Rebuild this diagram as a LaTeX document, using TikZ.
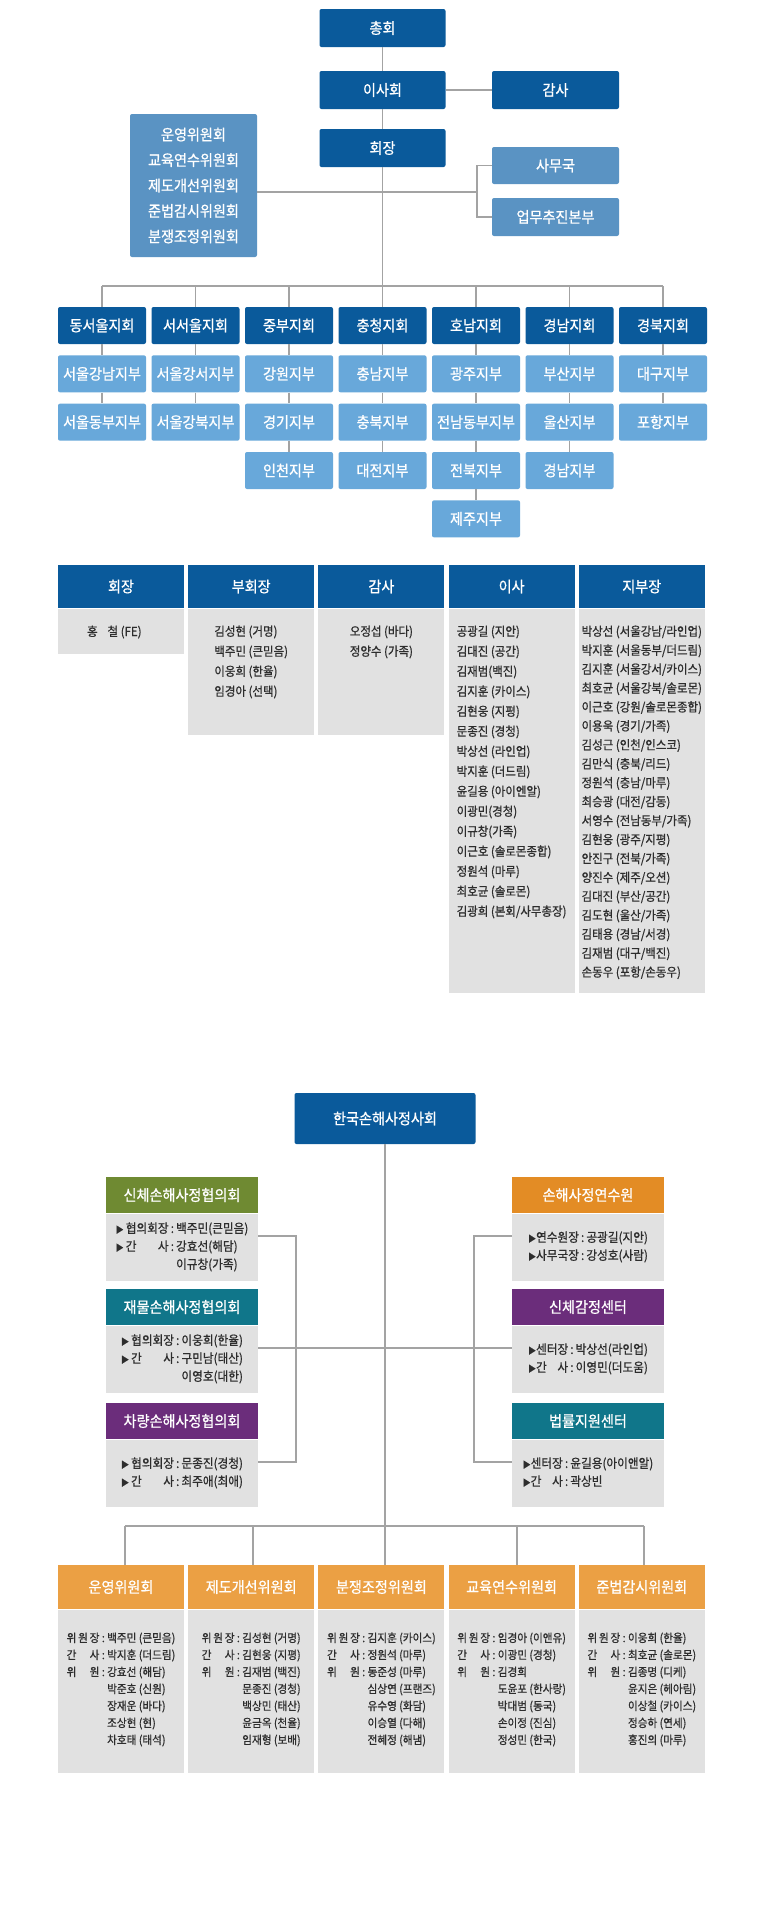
\documentclass[tikz,border=0pt]{standalone}
\usepackage{fontspec}
\setmainfont[FakeStretch=0.92, RawFeature={embolden=0.8}]{Noto Sans CJK KR}
\usetikzlibrary{positioning}
\definecolor{dkblue}{RGB}{10,90,155}
\definecolor{mdblue}{RGB}{90,147,195}
\definecolor{ltblue}{RGB}{104,168,218}
\definecolor{bodygray}{RGB}{225,225,225}
\definecolor{linegray}{RGB}{163,163,163}
\definecolor{txtgray}{RGB}{45,45,45}
\definecolor{olive}{RGB}{111,138,50}
\definecolor{tealc}{RGB}{16,118,138}
\definecolor{purp}{RGB}{107,45,123}
\definecolor{orng}{RGB}{227,140,37}
\definecolor{ltorng}{RGB}{235,160,68}
\newlength\lblw
\newcommand{\lbl}[1]{\settowidth{\lblw}{위원장}\makebox[1.12\lblw][s]{#1}}
\newcommand{\slbl}[1]{\settowidth{\lblw}{협의회장}\makebox[\lblw][s]{#1}}
\newcommand{\tlbl}[1]{\settowidth{\lblw}{센터장}\makebox[\lblw][s]{#1}}
\newcommand{\tri}{{\fontsize{6.5}{6.5}\selectfont ▶}}
\newcommand{\cont}{\hphantom{\ :\ }}
\newcommand{\scont}{\hphantom{\,:\,}}

\begin{document}
\begin{tikzpicture}[
    x=0.75pt, y=-0.75pt,
    darkbox/.style={fill=dkblue, text=white, rounded corners=1.5pt, inner sep=0pt, minimum width=94.5pt, minimum height=28.5pt, font=\fontsize{11.5}{14}\selectfont},
    midbox/.style={darkbox, fill=mdblue},
    region/.style={darkbox, minimum width=66pt, minimum height=27.75pt},
    branch/.style={region, fill=ltblue},
    thead/.style={fill=dkblue, text=white, inner sep=0pt, minimum width=94.5pt, minimum height=32.25pt, font=\fontsize{11.5}{14}\selectfont},
    tbody/.style={fill=bodygray, inner sep=0pt, minimum width=94.5pt},
    tlist/.style={text=txtgray, align=left, inner sep=0pt, font=\fontsize{9.35}{15}\selectfont},
    shead/.style={text=white, inner sep=0pt, minimum width=114pt, minimum height=27.4pt, font=\fontsize{11.5}{14}\selectfont},
    sbody/.style={fill=bodygray, text=txtgray, inner sep=0pt, minimum width=114pt, minimum height=50.25pt, font=\fontsize{9.5}{13.5}\selectfont},
    chead/.style={fill=ltorng, text=white, inner sep=0pt, minimum width=94.5pt, minimum height=33pt, font=\fontsize{11.5}{14}\selectfont},
    cbody/.style={fill=bodygray, inner sep=0pt, minimum width=94.5pt, minimum height=122.25pt},
    clist/.style={text=txtgray, inner sep=0pt, font=\fontsize{8.65}{12.75}\selectfont},
    link/.style={draw=linegray, line width=1.1pt}
]
    \fill[white] (0,0) rectangle (776,1921);
    \useasboundingbox (0,0) rectangle (776,1921);

    % top chart
    \node[darkbox] (assembly) at (382.5,28) {총회};
    \node[darkbox] (board) at (382.5,90) {이사회};
    \node[darkbox, minimum width=95.25pt] (audit) at (555.5,90) {감사};
    \node[darkbox] (pres) at (382.5,148) {회장};
    \node[midbox, minimum width=95.25pt, minimum height=107.25pt, align=center, font=\fontsize{11.5}{19.1}\selectfont] (cmtes) at (193.5,185.5) {운영위원회\\교육연수위원회\\제도개선위원회\\준법감시위원회\\분쟁조정위원회};
    \node[midbox, minimum width=95.25pt, minimum height=27.75pt] (office) at (555.5,165.5) {사무국};
    \node[midbox, minimum width=95.25pt] (hq) at (555.5,217) {업무추진본부};
    \coordinate (fork) at (477,192);
    \coordinate (bus) at (382.5,286);

    \draw[link] (assembly) -- (board);
    \draw[link] (board) -- (pres);
    \draw[link] (board) -- (audit);
    \draw[link] (pres) -- (bus);
    \draw[link] (cmtes.east |- fork) -- (fork);
    \draw[link] (office.west) -| (fork) |- (hq.west);

    % regions
    \node[region] (east) at (102,325.5) {동서울지회};
    \node[branch, below=8.1pt of east] (gangnam) {서울강남지부};
    \node[branch, below=8.1pt of gangnam] (dongbu) {서울동부지부};
    \node[region] (west) at (195.5,325.5) {서서울지회};
    \node[branch, below=8.1pt of west] (gangseo) {서울강서지부};
    \node[branch, below=8.1pt of gangseo] (gangbuk) {서울강북지부};
    \node[region] (central) at (289,325.5) {중부지회};
    \node[branch, below=8.1pt of central] (gangwon) {강원지부};
    \node[branch, below=8.1pt of gangwon] (gyeonggi) {경기지부};
    \node[branch, below=8.1pt of gyeonggi] (incheon) {인천지부};
    \node[region] (chung) at (382.5,325.5) {충청지회};
    \node[branch, below=8.1pt of chung] (chungnam) {충남지부};
    \node[branch, below=8.1pt of chungnam] (chungbuk) {충북지부};
    \node[branch, below=8.1pt of chungbuk] (daejeon) {대전지부};
    \node[region] (honam) at (476,325.5) {호남지회};
    \node[branch, below=8.1pt of honam] (gwangju) {광주지부};
    \node[branch, below=8.1pt of gwangju] (jeonnam) {전남동부지부};
    \node[branch, below=8.1pt of jeonnam] (jeonbuk) {전북지부};
    \node[branch, below=8.1pt of jeonbuk] (jeju) {제주지부};
    \node[region] (gnam) at (569.5,325.5) {경남지회};
    \node[branch, below=8.1pt of gnam] (busan) {부산지부};
    \node[branch, below=8.1pt of busan] (ulsan) {울산지부};
    \node[branch, below=8.1pt of ulsan] (gyeongnam) {경남지부};
    \node[region] (gbuk) at (663,325.5) {경북지회};
    \node[branch, below=8.1pt of gbuk] (daegu) {대구지부};
    \node[branch, below=8.1pt of daegu] (pohang) {포항지부};

    \draw[link] (east |- bus) -- (gbuk |- bus);
    \draw[link] (east |- bus) -- (east);
    \draw[link] (west |- bus) -- (west);
    \draw[link] (central |- bus) -- (central);
    \draw[link] (chung |- bus) -- (chung);
    \draw[link] (honam |- bus) -- (honam);
    \draw[link] (gnam |- bus) -- (gnam);
    \draw[link] (gbuk |- bus) -- (gbuk);
    \draw[link] (east) -- (gangnam);
    \draw[link] (gangnam) -- (dongbu);
    \draw[link] (west) -- (gangseo);
    \draw[link] (gangseo) -- (gangbuk);
    \draw[link] (central) -- (gangwon);
    \draw[link] (gangwon) -- (gyeonggi);
    \draw[link] (gyeonggi) -- (incheon);
    \draw[link] (chung) -- (chungnam);
    \draw[link] (chungnam) -- (chungbuk);
    \draw[link] (chungbuk) -- (daejeon);
    \draw[link] (honam) -- (gwangju);
    \draw[link] (gwangju) -- (jeonnam);
    \draw[link] (jeonnam) -- (jeonbuk);
    \draw[link] (jeonbuk) -- (jeju);
    \draw[link] (gnam) -- (busan);
    \draw[link] (busan) -- (ulsan);
    \draw[link] (ulsan) -- (gyeongnam);
    \draw[link] (gbuk) -- (daegu);
    \draw[link] (daegu) -- (pohang);

    % officers table
    \node[thead] (hpres) at (121,586.5) {회장};
    \node[tbody, minimum height=33.75pt, below=0pt of hpres] (bpres) {};
    \node[tlist, below=12.75pt of bpres.north, xshift=-5pt] {홍\hspace{0.8em}철 (FE)};
    \node[thead] (hvice) at (251.2,586.5) {부회장};
    \node[tbody, minimum height=94.5pt, below=0pt of hvice] (bvice) {};
    \node[tlist, below=12.75pt of bvice.north] {김성현 (거명)\\백주민 (큰믿음)\\이웅희 (한율)\\임경아 (선택)};
    \node[thead] (haudit) at (381.4,586.5) {감사};
    \node[tbody, minimum height=94.5pt, below=0pt of haudit] (baudit) {};
    \node[tlist, below=12.75pt of baudit.north] {오정섭 (바다)\\정양수 (가족)};
    \node[thead] (hdir) at (511.6,586.5) {이사};
    \node[tbody, minimum height=288pt, below=0pt of hdir] (bdir) {};
    \node[tlist, below=12.75pt of bdir.north] {공광길 (지안)\\김대진 (공간)\\김재범(백진)\\김지훈 (카이스)\\김현웅 (지평)\\문종진 (경청)\\박상선 (라인업)\\박지훈 (더드림)\\윤길용 (아이엔알)\\이광민(경청)\\이규창(가족)\\이근호 (솔로몬종합)\\정원석 (마루)\\최호균 (솔로몬)\\김광희 (본회/사무총장)};
    \node[thead] (hbranch) at (641.8,586.5) {지부장};
    \node[tbody, minimum height=288pt, below=0pt of hbranch] (bbranch) {};
    \node[tlist, below=12.75pt of bbranch.north, font=\fontsize{9.35}{14.2}\selectfont] {박상선 (서울강남/라인업)\\박지훈 (서울동부/더드림)\\김지훈 (서울강서/카이스)\\최호균 (서울강북/솔로몬)\\이근호 (강원/솔로몬종합)\\이용욱 (경기/가족)\\김성근 (인천/인스코)\\김만식 (충북/리드)\\정원석 (충남/마루)\\최승광 (대전/감동)\\서영수 (전남동부/가족)\\김현웅 (광주/지평)\\안진구 (전북/가족)\\양진수 (제주/오션)\\김대진 (부산/공간)\\김도현 (울산/가족)\\김태용 (경남/서경)\\김재범 (대구/백진)\\손동우 (포항/손동우)};

    % second chart
    \node[darkbox, minimum width=135.75pt, minimum height=38.25pt] (kasa) at (385,1118.5) {한국손해사정사회};
    \node[shead, fill=olive] (phys) at (182,1195) {신체손해사정협의회};
    \node[sbody, below=0pt of phys] (physb) {\begin{tabular}{@{}l@{}l@{}}\tri\,협의회장 & \,:\,백주민(큰믿음)\\ \tri\,\slbl{간\hfill 사} & \,:\,강효선(해담)\\ & \scont 이규창(가족)\end{tabular}};
    \node[shead, fill=tealc] (prop) at (182,1307) {재물손해사정협의회};
    \node[sbody, below=0pt of prop] (propb) {\begin{tabular}{@{}l@{}l@{}}\tri\,협의회장 & \,:\,이웅희(한율)\\ \tri\,\slbl{간\hfill 사} & \,:\,구민남(태산)\\ & \scont 이영호(대한)\end{tabular}};
    \node[shead, fill=purp] (auto) at (182,1421) {차량손해사정협의회};
    \node[sbody, below=0pt of auto] (autob) {\begin{tabular}{@{}l@{}l@{}}\tri\,협의회장 & \,:\,문종진(경청)\\ \tri\,\slbl{간\hfill 사} & \,:\,최주애(최애)\end{tabular}};
    \node[shead, fill=orng] (inst) at (588,1195) {손해사정연수원};
    \node[sbody, below=0pt of inst] (instb) {\begin{tabular}{@{}l@{}l@{}}\tri 연수원장 & \,:\,공광길(지안)\\ \tri 사무국장 & \,:\,강성호(사람)\end{tabular}};
    \node[shead, fill=purp] (exam) at (588,1307) {신체감정센터};
    \node[sbody, below=0pt of exam] (examb) {\begin{tabular}{@{}l@{}l@{}}\tri 센터장 & \,:\,박상선(라인업)\\ \tri\tlbl{간\hfill 사} & \,:\,이영민(더도움)\end{tabular}};
    \node[shead, fill=tealc] (legal) at (588,1421) {법률지원센터};
    \node[sbody, below=0pt of legal] (legalb) {\begin{tabular}{@{}l@{}l@{}}\tri 센터장 & \,:\,윤길용(아이앤알)\\ \tri\tlbl{간\hfill 사} & \,:\,곽상빈\end{tabular}};

    \coordinate (lp) at ([yshift=8.6pt]physb.east);
    \coordinate (lm) at ([yshift=8.6pt]propb.east);
    \coordinate (la) at ([yshift=8.6pt]autob.east);
    \coordinate (ri) at ([yshift=8.6pt]instb.west);
    \coordinate (rm) at ([yshift=8.6pt]examb.west);
    \coordinate (rl) at ([yshift=8.6pt]legalb.west);
    \coordinate (lbar) at (296,1300);
    \coordinate (rbar) at (474,1300);
    \coordinate (bus2) at (385,1526);
    \draw[link] (lp) -| (lbar |- la) -- (la);
    \draw[link] (ri) -| (rbar |- rl) -- (rl);
    \draw[link] (lm) -- (rm);
    \draw[link] (kasa) -- (bus2);

    % committees
    \node[chead] (opc) at (121,1587) {운영위원회};
    \node[cbody, below=0pt of opc] (opcb) {};
    \node[clist, below=15.5pt of opcb.north] {\begin{tabular}{@{}l@{}l@{}}\lbl{위\hfill 원\hfill 장} & \ :\ 백주민 (큰믿음)\\ \lbl{간\hfill 사} & \ :\ 박지훈 (더드림)\\ \lbl{위\hfill 원} & \ :\ 강효선 (해담)\\ & \cont 박준호 (신원)\\ & \cont 장재운 (바다)\\ & \cont 조상현 (현)\\ & \cont 차호태 (태석)\end{tabular}};
    \node[chead] (sysc) at (251.2,1587) {제도개선위원회};
    \node[cbody, below=0pt of sysc] (syscb) {};
    \node[clist, below=15.5pt of syscb.north] {\begin{tabular}{@{}l@{}l@{}}\lbl{위\hfill 원\hfill 장} & \ :\ 김성현 (거명)\\ \lbl{간\hfill 사} & \ :\ 김현웅 (지평)\\ \lbl{위\hfill 원} & \ :\ 김재범 (백진)\\ & \cont 문종진 (경청)\\ & \cont 백상민 (태산)\\ & \cont 윤금옥 (천율)\\ & \cont 임재형 (보배)\end{tabular}};
    \node[chead] (disc) at (381.4,1587) {분쟁조정위원회};
    \node[cbody, below=0pt of disc] (discb) {};
    \node[clist, below=15.5pt of discb.north] {\begin{tabular}{@{}l@{}l@{}}\lbl{위\hfill 원\hfill 장} & \ :\ 김지훈 (카이스)\\ \lbl{간\hfill 사} & \ :\ 정원석 (마루)\\ \lbl{위\hfill 원} & \ :\ 동준성 (마루)\\ & \cont 심상연 (프랜즈)\\ & \cont 유수영 (화담)\\ & \cont 이승열 (다해)\\ & \cont 전혜정 (해냄)\end{tabular}};
    \node[chead] (educ) at (511.6,1587) {교육연수위원회};
    \node[cbody, below=0pt of educ] (educb) {};
    \node[clist, below=15.5pt of educb.north] {\begin{tabular}{@{}l@{}l@{}}\lbl{위\hfill 원\hfill 장} & \ :\ 임경아 (이앤유)\\ \lbl{간\hfill 사} & \ :\ 이광민 (경청)\\ \lbl{위\hfill 원} & \ :\ 김경희\\ & \cont 도윤포 (한사랑)\\ & \cont 박대범 (동국)\\ & \cont 손이정 (진심)\\ & \cont 정성민 (한국)\end{tabular}};
    \node[chead] (comp) at (641.8,1587) {준법감시위원회};
    \node[cbody, below=0pt of comp] (compb) {};
    \node[clist, below=15.5pt of compb.north] {\begin{tabular}{@{}l@{}l@{}}\lbl{위\hfill 원\hfill 장} & \ :\ 이웅희 (한율)\\ \lbl{간\hfill 사} & \ :\ 최호균 (솔로몬)\\ \lbl{위\hfill 원} & \ :\ 김종명 (디케)\\ & \cont 윤지은 (헤아림)\\ & \cont 이상철 (카이스)\\ & \cont 정승하 (연세)\\ & \cont 홍진의 (마루)\end{tabular}};

    \coordinate (d1) at (125,1526);
    \coordinate (d2) at (253,1526);
    \coordinate (d4) at (517,1526);
    \coordinate (d5) at (644,1526);
    \draw[link] (d1) -- (d5);
    \draw[link] (d1) -- (d1 |- opc.north);
    \draw[link] (d2) -- (d2 |- sysc.north);
    \draw[link] (bus2) -- (bus2 |- disc.north);
    \draw[link] (d4) -- (d4 |- educ.north);
    \draw[link] (d5) -- (d5 |- comp.north);
\end{tikzpicture}
\end{document}
